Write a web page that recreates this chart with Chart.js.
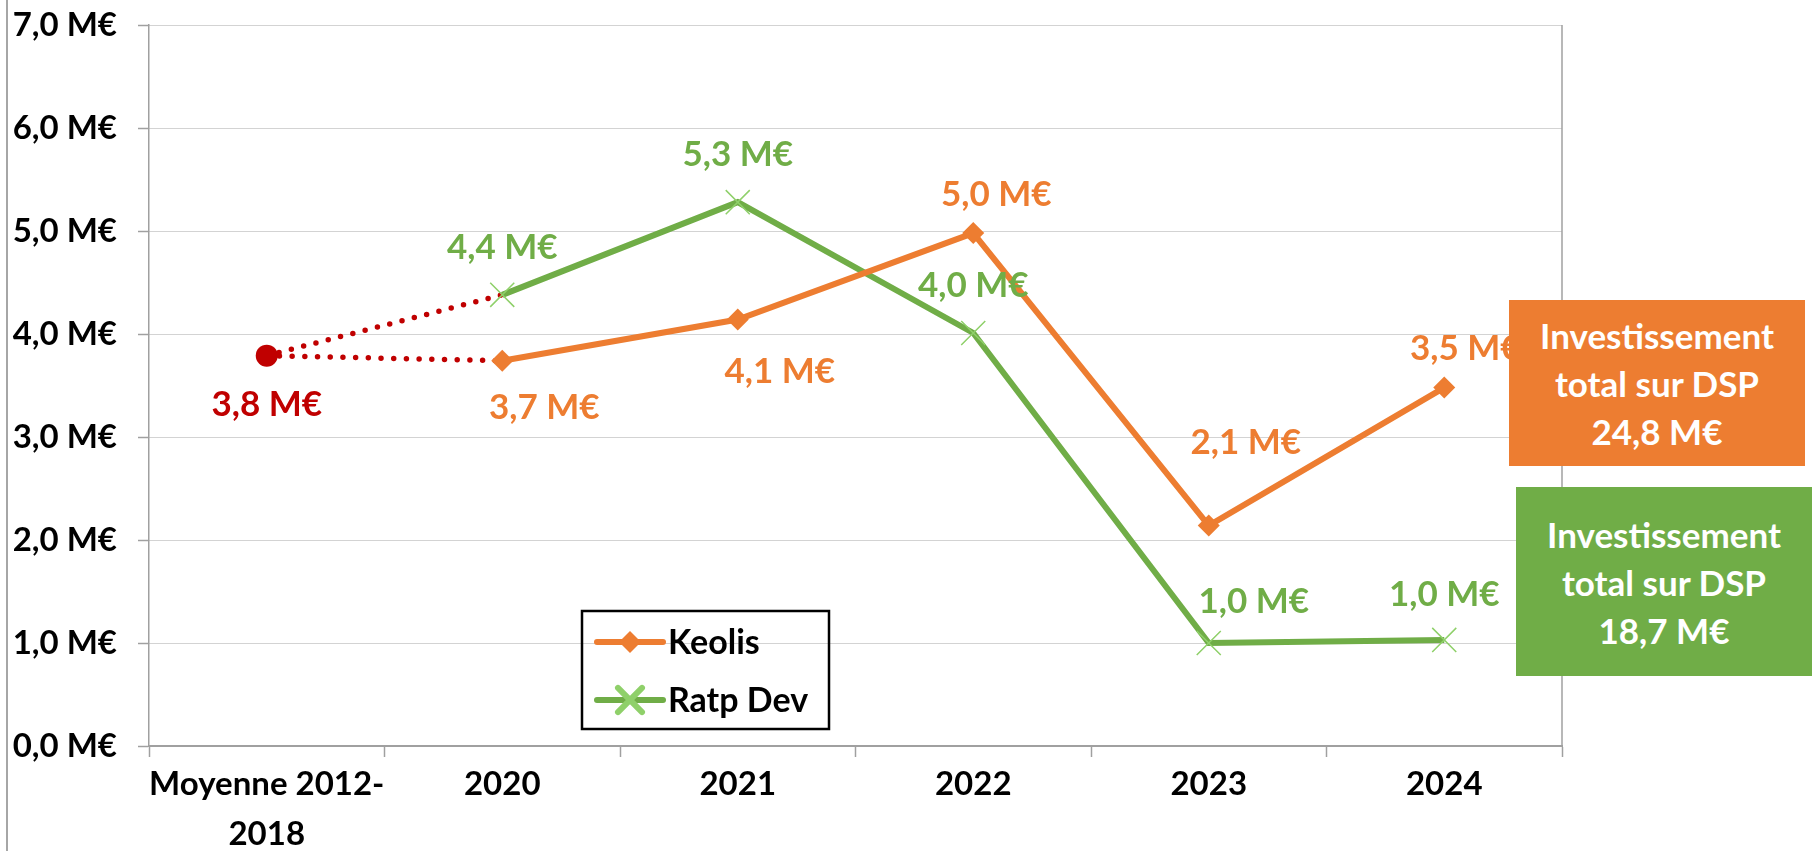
<!DOCTYPE html>
<html lang="fr">
<head>
<meta charset="utf-8">
<title>Investissements Keolis / Ratp Dev</title>
<script src="https://cdn.jsdelivr.net/npm/chart.js@4.4.1/dist/chart.umd.min.js"></script>
<style>
  html, body { margin: 0; padding: 0; background: #fff; }
  #wrap { position: relative; width: 1816px; height: 851px; overflow: hidden; }
  #frame { position: absolute; left: 6px; top: 0; width: 2px; height: 851px; background: #a6a6a6; }
  .total {
    position: absolute; color: #fff; font: bold 35px Lato, sans-serif;
    text-align: center; display: flex; align-items: center; justify-content: center;
    line-height: 48px;
  }
  #totKeolis { left: 1509px; top: 300px; width: 296px; height: 166px; background: #ED7D31; }
  #totRatp { left: 1516px; top: 487px; width: 296px; height: 189px; background: #70AD47; }
</style>
</head>
<body>
<div id="wrap">
  <canvas id="chart" width="1816" height="851"></canvas>
  <div id="frame"></div>
  <div class="total" id="totKeolis"><div id="totKeolisText"></div></div>
  <div class="total" id="totRatp"><div id="totRatpText"></div></div>
</div>
<script>
// valeurs (M€)
const categories = [['Moyenne 2012-', '2018'], '2020', '2021', '2022', '2023', '2024'];
const seriesNames = ['Keolis', 'Ratp Dev'];
const keolis = [null, 3.74, 4.14, 4.98, 2.14, 3.48];
const ratpDev = [null, 4.38, 5.28, 4.01, 1.00, 1.03];
const moyenne = [3.79, null, null, null, null, null];
const yTickLabels = ['0,0 M€', '1,0 M€', '2,0 M€', '3,0 M€', '4,0 M€', '5,0 M€', '6,0 M€', '7,0 M€'];
const totals = ['24,8 M€', '18,7 M€'];

const ORANGE = '#ED7D31';
const GREEN = '#70AD47';
const RED = '#C00000';
const FONT = 'Lato, sans-serif';

const fmt = v => v.toFixed(1).replace('.', ',') + ' M€';

// pointillés rouges : de la moyenne vers le premier point de chaque série
const linkKeolis = categories.map((c, i) => i === 0 ? moyenne[0] : i === 1 ? keolis[1] : null);
const linkRatp = categories.map((c, i) => i === 0 ? moyenne[0] : i === 1 ? ratpDev[1] : null);

document.getElementById('totKeolisText').innerHTML = 'Investissement<br>total sur DSP<br>' + totals[0];
document.getElementById('totRatpText').innerHTML = 'Investissement<br>total sur DSP<br>' + totals[1];

const valueLabels = {
  id: 'valueLabels',
  afterDatasetsDraw(chart) {
    const ctx = chart.ctx;
    const size = 35;
    ctx.save();
    ctx.font = 'bold ' + size + 'px ' + FONT;
    ctx.textAlign = 'center';
    ctx.textBaseline = 'alphabetic';
    chart.data.datasets.forEach((ds, di) => {
      if (!ds.labelShift) return;
      const meta = chart.getDatasetMeta(di);
      ctx.fillStyle = ds.labelColor;
      meta.data.forEach((pt, i) => {
        const v = ds.data[i];
        const s = ds.labelShift[i];
        if (v == null || !s) return;
        ctx.fillText(fmt(v), pt.x + s[0], pt.y + s[1] + size * 0.36);
      });
    });
    ctx.restore();
  }
};

const frameLines = {
  id: 'frameLines',
  beforeDatasetsDraw(chart) {
    const {ctx, chartArea} = chart;
    ctx.save();
    ctx.strokeStyle = '#a0a0a0';
    ctx.lineWidth = 1.5;
    ctx.beginPath();
    ctx.moveTo(chartArea.right, chartArea.top);
    ctx.lineTo(chartArea.right, chartArea.bottom);
    ctx.stroke();
    ctx.restore();
  }
};

const boxLegend = {
  id: 'boxLegend',
  afterDraw(chart) {
    const ctx = chart.ctx;
    const box = {x: 582, y: 611, w: 247, h: 118};
    ctx.save();
    ctx.strokeStyle = '#000';
    ctx.lineWidth = 2.5;
    ctx.strokeRect(box.x, box.y, box.w, box.h);
    [0, 1].forEach(i => {
      const ds = chart.data.datasets[i];
      const y = box.y + 31 + i * 58;
      ctx.strokeStyle = ds.borderColor;
      ctx.lineWidth = ds.borderWidth;
      ctx.lineCap = 'round';
      ctx.beginPath();
      ctx.moveTo(box.x + 15, y);
      ctx.lineTo(box.x + 81, y);
      ctx.stroke();
      ctx.fillStyle = ds.pointBackgroundColor || ds.borderColor;
      ctx.strokeStyle = ds.pointBorderColor || ds.borderColor;
      Chart.helpers.drawPoint(ctx, {
        pointStyle: ds.pointStyle, radius: ds.pointRadius, rotation: 0, borderWidth: ds.pointBorderWidth
      }, box.x + 48, y);
      ctx.fillStyle = '#000';
      ctx.font = 'bold 34px ' + FONT;
      ctx.textAlign = 'left';
      ctx.textBaseline = 'alphabetic';
      ctx.fillText(ds.label, box.x + 86, y + 34 * 0.36);
    });
    ctx.restore();
  }
};

new Chart(document.getElementById('chart'), {
  type: 'line',
  data: {
    labels: categories,
    datasets: [
      {
        label: seriesNames[0], data: keolis,
        borderColor: ORANGE, borderWidth: 6,
        pointStyle: 'rectRot', pointRadius: 11, pointBackgroundColor: ORANGE, pointBorderWidth: 0,
        labelColor: ORANGE,
        labelShift: [null, [42, 46], [42, 51], [23, -40], [37, -84], [21, -40]]
      },
      {
        label: seriesNames[1], data: ratpDev,
        borderColor: GREEN, borderWidth: 6,
        pointStyle: 'crossRot', pointRadius: 17, pointBorderColor: '#8fd06a', pointBorderWidth: 1.5,
        labelColor: GREEN,
        labelShift: [null, [0, -48], [0, -49], [0, -49], [45, -43], [0, -47]]
      },
      {
        label: 'Moyenne 2012-2018', data: moyenne, showLine: false,
        pointStyle: 'circle', pointRadius: 11, pointBackgroundColor: RED, pointBorderWidth: 0,
        labelColor: RED,
        labelShift: [[0, 48], null, null, null, null, null]
      },
      {
        data: linkKeolis, borderColor: RED, borderWidth: 5.5,
        borderDash: [0, 12.7], borderCapStyle: 'round', pointRadius: 0
      },
      {
        data: linkRatp, borderColor: RED, borderWidth: 5.5,
        borderDash: [0, 12.7], borderCapStyle: 'round', pointRadius: 0
      }
    ]
  },
  options: {
    responsive: false,
    devicePixelRatio: 1,
    animation: false,
    events: [],
    layout: { padding: { top: 25, right: 254, bottom: 0, left: 0 } },
    plugins: { legend: { display: false }, tooltip: { enabled: false } },
    scales: {
      x: {
        offset: true,
        grid: {
          offset: true, drawOnChartArea: false, tickLength: 11,
          color: '#a0a0a0', tickColor: '#a0a0a0', tickWidth: 1.5
        },
        border: { color: '#a0a0a0', width: 2 },
        ticks: {
          color: '#000', padding: 3, maxRotation: 0, autoSkip: false,
          font: { family: FONT, size: 33, weight: 'bold', lineHeight: 1.5 }
        },
        afterFit(s) { s.height = 105; }
      },
      y: {
        min: 0, max: 7,
        ticks: {
          stepSize: 1, color: '#000', padding: 21,
          font: { family: FONT, size: 33, weight: 'bold' },
          callback: (v, i) => yTickLabels[i]
        },
        grid: {
          color: '#a6a6a6', lineWidth: 1, tickLength: 11,
          tickColor: '#a0a0a0', tickWidth: 1.5, tickBorderDash: []
        },
        border: { color: '#a0a0a0', width: 1.5, dash: [1, 1] },
        afterFit(s) {
          s.width = 149;
          s.paddingTop = 0;
          s.paddingBottom = 0;
        }
      }
    }
  },
  plugins: [frameLines, valueLabels, boxLegend]
});
</script>
</body>
</html>
